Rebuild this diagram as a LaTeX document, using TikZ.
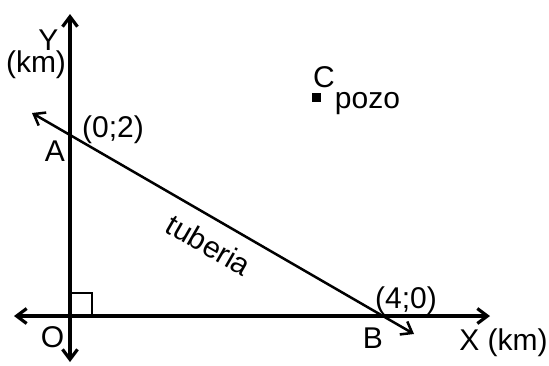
\documentclass[tikz,border=0pt]{standalone}
\usepackage{fontspec}
\setmainfont{Liberation Sans}
\usetikzlibrary{arrows.meta}
\begin{document}
\begin{tikzpicture}[x=1pt,y=-1pt,
  font=\fontsize{30}{36}\selectfont,
  lbl/.style={anchor=base,inner sep=0pt},
  barb/.tip={Straight Barb[length=10pt,width=15pt]},
  axis/.style={line width=3.2pt,barb-barb},
  pipe/.style={line width=2.5pt,barb-barb},
  rightangle/.style={line width=2pt}]
\useasboundingbox (0,0) rectangle (549,365);
% coordinates
\coordinate (yb) at (70,362);
\coordinate (yt) at (70,14);
\coordinate (xl) at (14,316);
\coordinate (xr) at (490,316);
\coordinate (O) at (70,316);
\coordinate (p1) at (32,113);
\coordinate (p2) at (414,334);
% axes
\draw[axis] (yb) -- (yt);
\draw[axis] (xl) -- (xr);
% pipe
\draw[pipe] (p1) -- (p2);
% right angle
\draw[rightangle] (O) ++(0,-23) -- ++(22,0) -- ++(0,23);
% well marker
\node[fill=black,minimum size=9pt,inner sep=0pt] (C) at (316,97) {};
% labels
\node[lbl] (ylab) at (48.5,50) {Y};
\node[lbl] (ykm) at (36,72) {(km)};
\node[lbl] (a02) at (113,137) {(0;2)};
\node[lbl] (A) at (55,161) {A};
\node[lbl] (Olab) at (52.5,347) {O};
\node[lbl] (B) at (373,348) {B};
\node[lbl] (b40) at (406,308) {(4;0)};
\node[lbl] (xlab) at (503.5,350) {X (km)};
\node[lbl] (Clab) at (324,87) {C};
\node[lbl] (pozo) at (367.5,108) {pozo};
\node[rotate=-30,inner sep=0pt] (tub) at (209,245) {tuberia};
\end{tikzpicture}
\end{document}
